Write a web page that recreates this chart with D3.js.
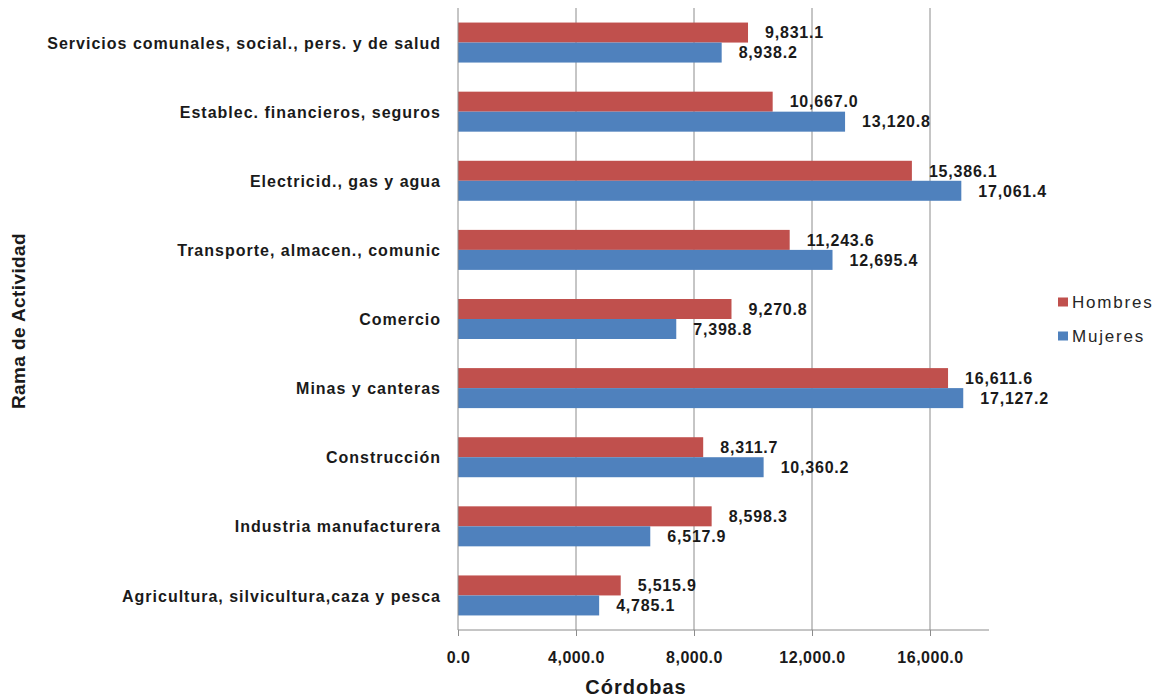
<!DOCTYPE html>
<html lang="es">
<head>
    <meta charset="UTF-8">
    <title>Rama de Actividad</title>
    <script src="https://cdn.jsdelivr.net/npm/d3@7/dist/d3.min.js"></script>
    <style>
        body { margin: 0; background: #fff; }
        svg { width: 1160px; height: 698px; font-family: "Liberation Sans", Arial, sans-serif; }
    </style>
</head>
<body>
    <svg></svg>

    <script>
        const categories = [
            'Servicios comunales, social., pers. y de salud',
            'Establec. financieros, seguros',
            'Electricid., gas y agua',
            'Transporte, almacen., comunic',
            'Comercio',
            'Minas y  canteras',
            'Construcción',
            'Industria manufacturera',
            'Agricultura, silvicultura,caza y pesca'
        ];
        const hombres = [9831.1, 10667.0, 15386.1, 11243.6, 9270.8, 16611.6, 8311.7, 8598.3, 5515.9];
        const mujeres = [8938.2, 13120.8, 17061.4, 12695.4, 7398.8, 17127.2, 10360.2, 6517.9, 4785.1];
        const xTicks = [0, 4000, 8000, 12000, 16000];
        const series = [
            { name: 'Hombres', values: hombres, color: '#C0504D' },
            { name: 'Mujeres', values: mujeres, color: '#4F81BD' }
        ];

        const plotLeft = 458, plotRight = 989, plotTop = 8, plotBottom = 630;
        const svg = d3.select('svg');
        const ink = '#1a1a1a';

        const x = d3.scaleLinear().domain([0, 18000]).range([plotLeft, plotRight]);
        const y = d3.scaleBand().domain(categories).range([plotTop, plotBottom]);
        const barH = 20;

        // gridlines
        svg.append('g').selectAll('line')
            .data(xTicks.slice(1)).enter().append('line')
            .attr('x1', d => x(d)).attr('x2', d => x(d))
            .attr('y1', plotTop).attr('y2', plotBottom)
            .attr('stroke', '#8c8c8c').attr('stroke-width', 1);

        // bars
        series.forEach((s, si) => {
            const g = svg.append('g');
            g.selectAll('rect')
                .data(s.values).enter().append('rect')
                .attr('x', x(0))
                .attr('y', (d, i) => y(categories[i]) + y.bandwidth() / 2 - barH + si * barH)
                .attr('width', d => x(d) - x(0))
                .attr('height', barH)
                .attr('fill', s.color);
            g.selectAll('text')
                .data(s.values).enter().append('text')
                .attr('x', d => x(d) + 17)
                .attr('y', (d, i) => y(categories[i]) + y.bandwidth() / 2 - barH / 2 + si * barH)
                .attr('dy', '0.36em')
                .attr('font-size', 16).attr('font-weight', 'bold').attr('fill', ink)
                .attr('letter-spacing', 0.8)
                .text(d => d3.format(',.1f')(d));
        });

        // axes
        const xAxis = svg.append('g')
            .attr('transform', `translate(0, ${plotBottom})`)
            .call(d3.axisBottom(x).tickValues(xTicks).tickSize(6).tickPadding(16)
                .tickFormat(d3.format(',.1f')));
        xAxis.select('.domain').attr('stroke', '#8c8c8c').attr('d', `M${plotLeft},0H${plotRight}`);
        xAxis.selectAll('.tick line').attr('stroke', '#8c8c8c');
        xAxis.selectAll('text')
            .attr('font-size', 16).attr('font-weight', 'bold').attr('fill', ink)
            .attr('letter-spacing', 0.5)
            .attr('font-family', '"Liberation Sans", Arial, sans-serif');

        const yAxis = svg.append('g')
            .attr('transform', `translate(${plotLeft}, 0)`)
            .call(d3.axisLeft(y).tickSize(0).tickPadding(17));
        yAxis.select('.domain').attr('stroke', '#8c8c8c').attr('d', `M0,${plotTop}V${plotBottom}`);
        yAxis.selectAll('text')
            .attr('font-size', 16).attr('font-weight', 'bold').attr('fill', ink)
            .attr('letter-spacing', 1)
            .attr('font-family', '"Liberation Sans", Arial, sans-serif')
            .attr('dy', '0.38em');

        // axis titles
        svg.append('text')
            .attr('x', 636).attr('y', 694)
            .attr('text-anchor', 'middle')
            .attr('font-size', 20).attr('font-weight', 'bold').attr('fill', ink)
            .attr('letter-spacing', 1)
            .text('Córdobas');
        svg.append('text')
            .attr('transform', 'translate(25, 321) rotate(-90)')
            .attr('text-anchor', 'middle')
            .attr('font-size', 19).attr('font-weight', 'bold').attr('fill', ink)
            .attr('letter-spacing', 0.4)
            .text('Rama de Actividad');

        // legend
        const legend = svg.append('g').selectAll('g')
            .data(series).enter().append('g')
            .attr('transform', (d, i) => `translate(1058, ${302 + i * 34})`);
        legend.append('rect')
            .attr('x', 0).attr('y', -4.5).attr('width', 10).attr('height', 9)
            .attr('fill', d => d.color);
        legend.append('text')
            .attr('x', 14).attr('dy', '0.36em')
            .attr('font-size', 17).attr('fill', '#262626')
            .attr('letter-spacing', 1.8)
            .text(d => d.name);
    </script>
</body>
</html>
